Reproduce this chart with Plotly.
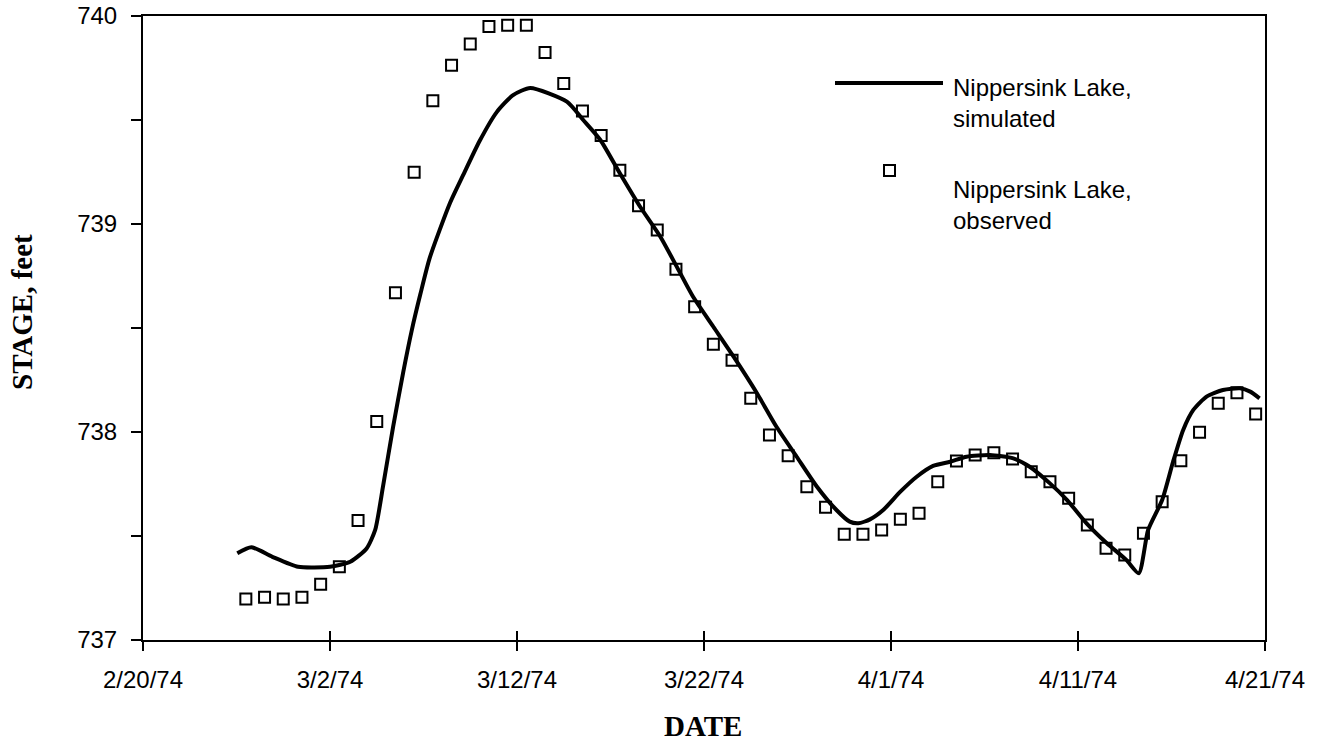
import plotly.graph_objects as go

# Observed daily stages (noon readings)
obs_dates = [
    "1974-02-25 12:00", "1974-02-26 12:00", "1974-02-27 12:00", "1974-02-28 12:00",
    "1974-03-01 12:00", "1974-03-02 12:00", "1974-03-03 12:00", "1974-03-04 12:00",
    "1974-03-05 12:00", "1974-03-06 12:00", "1974-03-07 12:00", "1974-03-08 12:00",
    "1974-03-09 12:00", "1974-03-10 12:00", "1974-03-11 12:00", "1974-03-12 12:00",
    "1974-03-13 12:00", "1974-03-14 12:00", "1974-03-15 12:00", "1974-03-16 12:00",
    "1974-03-17 12:00", "1974-03-18 12:00", "1974-03-19 12:00", "1974-03-20 12:00",
    "1974-03-21 12:00", "1974-03-22 12:00", "1974-03-23 12:00", "1974-03-24 12:00",
    "1974-03-25 12:00", "1974-03-26 12:00", "1974-03-27 12:00", "1974-03-28 12:00",
    "1974-03-29 12:00", "1974-03-30 12:00", "1974-03-31 12:00", "1974-04-01 12:00",
    "1974-04-02 12:00", "1974-04-03 12:00", "1974-04-04 12:00", "1974-04-05 12:00",
    "1974-04-06 12:00", "1974-04-07 12:00", "1974-04-08 12:00", "1974-04-09 12:00",
    "1974-04-10 12:00", "1974-04-11 12:00", "1974-04-12 12:00", "1974-04-13 12:00",
    "1974-04-14 12:00", "1974-04-15 12:00", "1974-04-16 12:00", "1974-04-17 12:00",
    "1974-04-18 12:00", "1974-04-19 12:00", "1974-04-20 12:00",
]
obs_stage = [
    737.197, 737.205, 737.197, 737.205, 737.268, 737.352, 737.575, 738.051,
    738.670, 739.249, 739.593, 739.763, 739.865, 739.949, 739.955, 739.955,
    739.824, 739.675, 739.543, 739.425, 739.258, 739.088, 738.971, 738.782,
    738.602, 738.422, 738.345, 738.162, 737.986, 737.886, 737.737, 737.638,
    737.508, 737.508, 737.529, 737.580, 737.609, 737.761, 737.861, 737.889,
    737.900, 737.870, 737.809, 737.761, 737.681, 737.553, 737.441, 737.409,
    737.513, 737.665, 737.862, 737.999, 738.138, 738.189, 738.087,
]

# Simulated stage
sim_dates = [
    "1974-02-25 01:00", "1974-02-25 19:00", "1974-02-26 22:00", "1974-02-28 07:00",
    "1974-03-02 00:00", "1974-03-03 02:00", "1974-03-03 23:00", "1974-03-04 10:00",
    "1974-03-04 20:00", "1974-03-05 09:00", "1974-03-05 22:00", "1974-03-06 09:00",
    "1974-03-06 20:00", "1974-03-07 08:00", "1974-03-08 10:00", "1974-03-09 03:00",
    "1974-03-10 00:00", "1974-03-10 22:00", "1974-03-11 19:00", "1974-03-12 17:00",
    "1974-03-14 16:00", "1974-03-15 13:00", "1974-03-16 11:00", "1974-03-17 12:00",
    "1974-03-18 14:00", "1974-03-19 16:00", "1974-03-20 13:00", "1974-03-21 10:00",
    "1974-03-22 12:00", "1974-03-23 14:00", "1974-03-24 20:00", "1974-03-25 21:00",
    "1974-03-26 23:00", "1974-03-28 01:00", "1974-03-29 02:00", "1974-03-29 19:00",
    "1974-03-30 06:00", "1974-03-30 21:00", "1974-03-31 14:00", "1974-04-01 12:00",
    "1974-04-02 09:00", "1974-04-03 06:00", "1974-04-04 04:00", "1974-04-05 01:00",
    "1974-04-06 07:00", "1974-04-07 13:00", "1974-04-08 10:00", "1974-04-09 12:00",
    "1974-04-10 10:00", "1974-04-11 11:00", "1974-04-12 13:00", "1974-04-13 14:00",
    "1974-04-14 06:00", "1974-04-14 18:00", "1974-04-15 12:00", "1974-04-16 02:00",
    "1974-04-16 15:00", "1974-04-17 04:00", "1974-04-17 21:00", "1974-04-18 18:00",
    "1974-04-19 16:00", "1974-04-20 05:00", "1974-04-20 17:00",
]
sim_stage = [
    737.417, 737.446, 737.400, 737.352,
    737.352, 737.376, 737.440, 737.529,
    737.737, 738.025, 738.288, 738.490,
    738.663, 738.837, 739.101, 739.236,
    739.399, 739.538, 739.620, 739.654,
    739.588, 739.500, 739.404, 739.244,
    739.083, 738.939, 738.795, 738.650,
    738.506, 738.362, 738.186, 738.025,
    737.881, 737.737, 737.625, 737.569,
    737.561, 737.580, 737.625, 737.713,
    737.785, 737.837, 737.857, 737.881,
    737.889, 737.873, 737.833, 737.753,
    737.673, 737.561, 737.465, 737.385,
    737.321, 737.529, 737.673, 737.857,
    738.010, 738.106, 738.170, 738.202,
    738.210, 738.194, 738.162,
]

x_range = ["1974-02-20", "1974-04-21"]
y_range = [737, 740]
legend_labels = ["Nippersink Lake,<br>simulated", "Nippersink Lake,<br>observed"]
x_title = "DATE"
y_title = "STAGE, feet"

fig = go.Figure()
fig.add_trace(go.Scatter(
    x=sim_dates, y=sim_stage, mode="lines",
    line=dict(color="black", width=4, shape="spline", smoothing=0.6),
    showlegend=False,
))
# observed points sit on an overlay x axis with identical range; that axis
# draws the upper half of the crossing tick marks
fig.add_trace(go.Scatter(
    x=obs_dates, y=obs_stage, mode="markers", xaxis="x2",
    marker=dict(symbol="square-open", size=11, color="black", line=dict(width=2)),
    showlegend=False, cliponaxis=False,
))

tick_font = dict(family="Liberation Sans, Arial, sans-serif", size=24, color="black")
title_font = dict(family="Liberation Serif, Times New Roman, serif", size=29, color="black")

fig.update_layout(
    xaxis=dict(
        range=x_range, type="date",
        tick0="1974-02-20", dtick=864000000, tickformat="%-m/%-d/%y",
        ticks="outside", ticklen=9, tickwidth=1.5, tickcolor="black",
        ticklabelstandoff=8, ticklabeloverflow="allow",
        showline=True, linecolor="black", linewidth=2, mirror=True,
        showgrid=False, zeroline=False, tickfont=tick_font, automargin=False,
    ),
    xaxis2=dict(
        range=x_range, type="date", overlaying="x", side="bottom", anchor="y",
        tick0="1974-02-20", dtick=864000000,
        ticks="inside", ticklen=9, tickwidth=1.5, tickcolor="black",
        showticklabels=False, showline=False, showgrid=False, zeroline=False,
        automargin=False,
    ),
    yaxis=dict(
        range=y_range, dtick=1, tick0=737,
        ticks="outside", ticklen=10, tickwidth=1.5, tickcolor="black",
        minor=dict(dtick=0.5, ticks="outside", ticklen=10, tickwidth=1.5, tickcolor="black"),
        ticklabelstandoff=9, ticklabeloverflow="allow",
        showline=True, linecolor="black", linewidth=2, mirror=True,
        showgrid=False, zeroline=False, tickfont=tick_font, automargin=False,
    ),
)

# helpers: page pixel -> paper coords (plot area x 143..1265, y 16..640)
def px(x):
    return (x - 143) / 1122

def py(y):
    return 1 - (y - 16) / 624

# axis titles
fig.add_annotation(xref="paper", yref="paper", x=px(703), y=py(726),
                   text="<b>" + x_title + "</b>", showarrow=False,
                   xanchor="center", yanchor="middle", font=title_font)
fig.add_annotation(xref="paper", yref="paper", x=px(22), y=py(312),
                   text="<b>" + y_title + "</b>", showarrow=False, textangle=-90,
                   xanchor="center", yanchor="middle", font=title_font)

# legend drawn in paper coordinates
fig.add_shape(type="line", xref="paper", yref="paper",
              x0=px(835), x1=px(943), y0=py(83), y1=py(83),
              line=dict(color="black", width=4))
fig.add_shape(type="rect", xref="paper", yref="paper",
              x0=px(884), x1=px(895), y0=py(176), y1=py(165),
              line=dict(color="black", width=2))
for i, lab in enumerate(legend_labels):
    fig.add_annotation(
        xref="paper", yref="paper",
        x=px(951), y=py([103, 205][i]),
        text=lab, showarrow=False, xanchor="left", yanchor="middle", align="left",
        font=dict(family="Liberation Sans, Arial, sans-serif", size=24, color="black"),
    )

fig.update_layout(
    width=1325, height=743,
    margin=dict(l=143, r=60, t=16, b=103),
    plot_bgcolor="white", paper_bgcolor="white",
)

fig.write_html(
    "out.html",
    config={"displayModeBar": False},
    post_script="document.body.style.margin='0';document.body.style.overflow='hidden';",
)
